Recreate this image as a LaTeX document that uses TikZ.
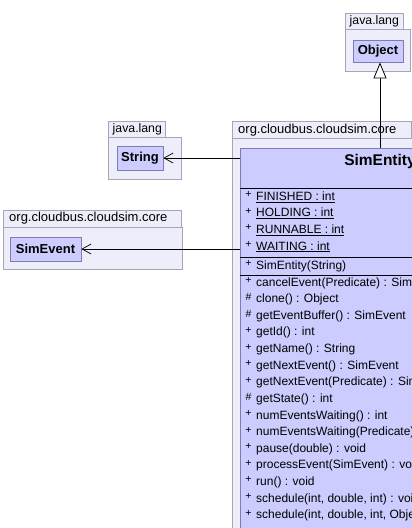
\documentclass[tikz,border=0pt]{standalone}
\usepackage{fontspec}
\setmainfont{Liberation Sans}
\usetikzlibrary{arrows.meta}
\definecolor{pkgfill}{RGB}{238,238,250}
\definecolor{pkgdraw}{RGB}{165,165,185}
\definecolor{clsfill}{RGB}{204,204,255}
\definecolor{clsdraw}{RGB}{125,125,175}
\begin{document}
\begin{tikzpicture}[x=1pt,y=-1pt,
  pkg/.style={draw=pkgdraw,fill=pkgfill,line width=0.8pt},
  cls/.style={draw=clsdraw,fill=clsfill,line width=0.8pt,inner sep=0pt,
    font=\bfseries\fontsize{13}{15}\selectfont},
  pkglabel/.style={inner sep=0pt,anchor=west,font=\fontsize{13}{15}\selectfont},
  jlabel/.style={pkglabel,font=\fontsize{12.3}{14}\selectfont},
  member/.style={inner sep=0pt,anchor=west,font=\fontsize{12}{14}\selectfont},
  vis/.style={inner sep=0pt,font=\fontsize{10.5}{12}\selectfont},
  dep/.style={draw=black,line width=0.8pt,-{Straight Barb[length=9pt,width=10pt,line width=0.7pt]}},
  gen/.style={draw=black,line width=0.8pt,-{Triangle[open,length=16pt,width=13pt,fill=white,line width=0.8pt]}},
  sep/.style={draw=black,line width=0.9pt}]
\useasboundingbox (0,0) rectangle (412,528);
\fill[white] (0,0) rectangle (412,528);
\clip (0,0) rectangle (412,528);

% --- java.lang (Object)
\draw[pkg] (345,13.5) rectangle (403,29);
\draw[pkg] (345,29) rectangle (410.5,71);
\node[jlabel] (objpkg) at (349.5,21.5) {java.lang};
\node[cls,minimum width=50,minimum height=22] (obj) at (378,51) {Object};

% --- java.lang (String)
\draw[pkg] (108.5,121) rectangle (165,137);
\draw[pkg] (108.5,137) rectangle (181,179);
\node[jlabel] (strpkg) at (112.5,129.5) {java.lang};
\node[cls,minimum width=46,minimum height=24] (str) at (140,158) {String};

% --- org.cloudbus.cloudsim.core (SimEvent)
\draw[pkg] (3,210) rectangle (181.5,227.5);
\draw[pkg] (3,227.5) rectangle (182,269);
\node[pkglabel] (evpkg) at (9,218.5) {org.cloudbus.cloudsim.core};
\node[cls,minimum width=71,minimum height=24] (ev) at (45.5,249) {SimEvent};

% --- org.cloudbus.cloudsim.core (SimEntity)
\draw[pkg] (232.5,121) rectangle (411,138);
\draw[pkg] (232.5,138) rectangle (560,600);
\node[pkglabel] (enpkg) at (238,130) {org.cloudbus.cloudsim.core};
\node[cls,minimum width=280,minimum height=420] (se) at (380,358) {};
\node[inner sep=0pt,font=\bfseries\fontsize{15.5}{18}\selectfont] (sename) at (380,161) {SimEntity};
\draw[sep] (se.west |- 0,188) -- (se.east |- 0,188);
\draw[sep] (se.west |- 0,257) -- (se.east |- 0,257);
\draw[sep] (se.west |- 0,275) -- (se.east |- 0,275);

% attributes (static, underlined)
\foreach \t [count=\i from 0] in {FINISHED : int, HOLDING : int, RUNNABLE : int, WAITING : int}{
  \node[vis] at (248.5,{194.5+16.6*\i}) {+};
  \node[member] at (256,{197+16.6*\i}) {\underline{\t}};
}
% constructor
\node[vis] at (248.5,263.5) {+};
\node[member] (ctor) at (256,266) {SimEntity(String)};

% methods
\foreach \v/\t [count=\i from 0] in {
  +/cancelEvent(Predicate) : SimEvent,
  \#/clone() : Object,
  \#/getEventBuffer() : SimEvent,
  +/getId() : int,
  +/getName() : String,
  +/getNextEvent() : SimEvent,
  +/getNextEvent(Predicate) : SimEvent,
  \#/getState() : int,
  +/numEventsWaiting() : int,
  +/numEventsWaiting(Predicate) : int,
  +/pause(double) : void,
  +/processEvent(SimEvent) : void,
  +/run() : void,
  +/schedule(int{,} double{,} int) : void,
  +/schedule(int{,} double{,} int{,} Object) : void}{
  \node[vis] at (248.5,{280.5+16.62*\i}) {\v};
  \node[member] at (256,{283+16.62*\i}) {\t};
}

% connectors
\draw[gen] (se.north) -- (se.north |- obj.south);
\draw[dep] (se.west |- str.east) -- (str.east);
\draw[dep] (se.west |- ev.east) -- (ev.east);
\end{tikzpicture}
\end{document}
